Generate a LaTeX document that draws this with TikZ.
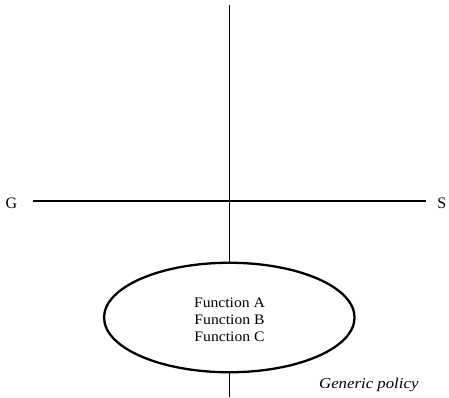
\documentclass[tikz,border=0pt]{standalone}
\usepackage{fontspec}
\setmainfont{Liberation Serif}
\newfontfamily\fnfont[FakeStretch=1.08]{Liberation Serif}
\newfontfamily\polfont[FakeStretch=1.12]{Liberation Serif}
\usetikzlibrary{shapes.geometric}
\begin{document}
\begin{tikzpicture}[x=1pt,y=-1pt,
  axis/.style={line width=1.4pt,black},
  lbl/.style={font=\fontsize{16}{18}\selectfont, inner sep=0pt, anchor=base},
  fn/.style={font=\fnfont\fontsize{14.5}{16.8}\selectfont, align=center, inner sep=0pt}]
\useasboundingbox (0,0) rectangle (449,397);
\node[lbl] (G) at (11.3,208.3) {G};
\node[lbl] (S) at (441.7,208.3) {S};
\coordinate (top) at (229.3,5);
\coordinate (bot) at (229.3,397);
\draw[axis] (33.3,201) coordinate (L) -- (426,201) coordinate (R);
\node[draw, ellipse, line width=2.3pt, minimum width=250.5pt, minimum height=109.5pt, inner sep=0pt] (E) at (229.3,317.5) {};
\node[fn] (F) at (229.5,319.5) {Function A\\Function B\\Function C};
\draw[axis] (top) -- (E.north);
\draw[axis] (E.south) -- (bot);
\node[font=\polfont\fontsize{15}{17}\selectfont\itshape, inner sep=0pt, anchor=base] (P) at (368.8,388.3) {Generic policy};
\end{tikzpicture}
\end{document}
